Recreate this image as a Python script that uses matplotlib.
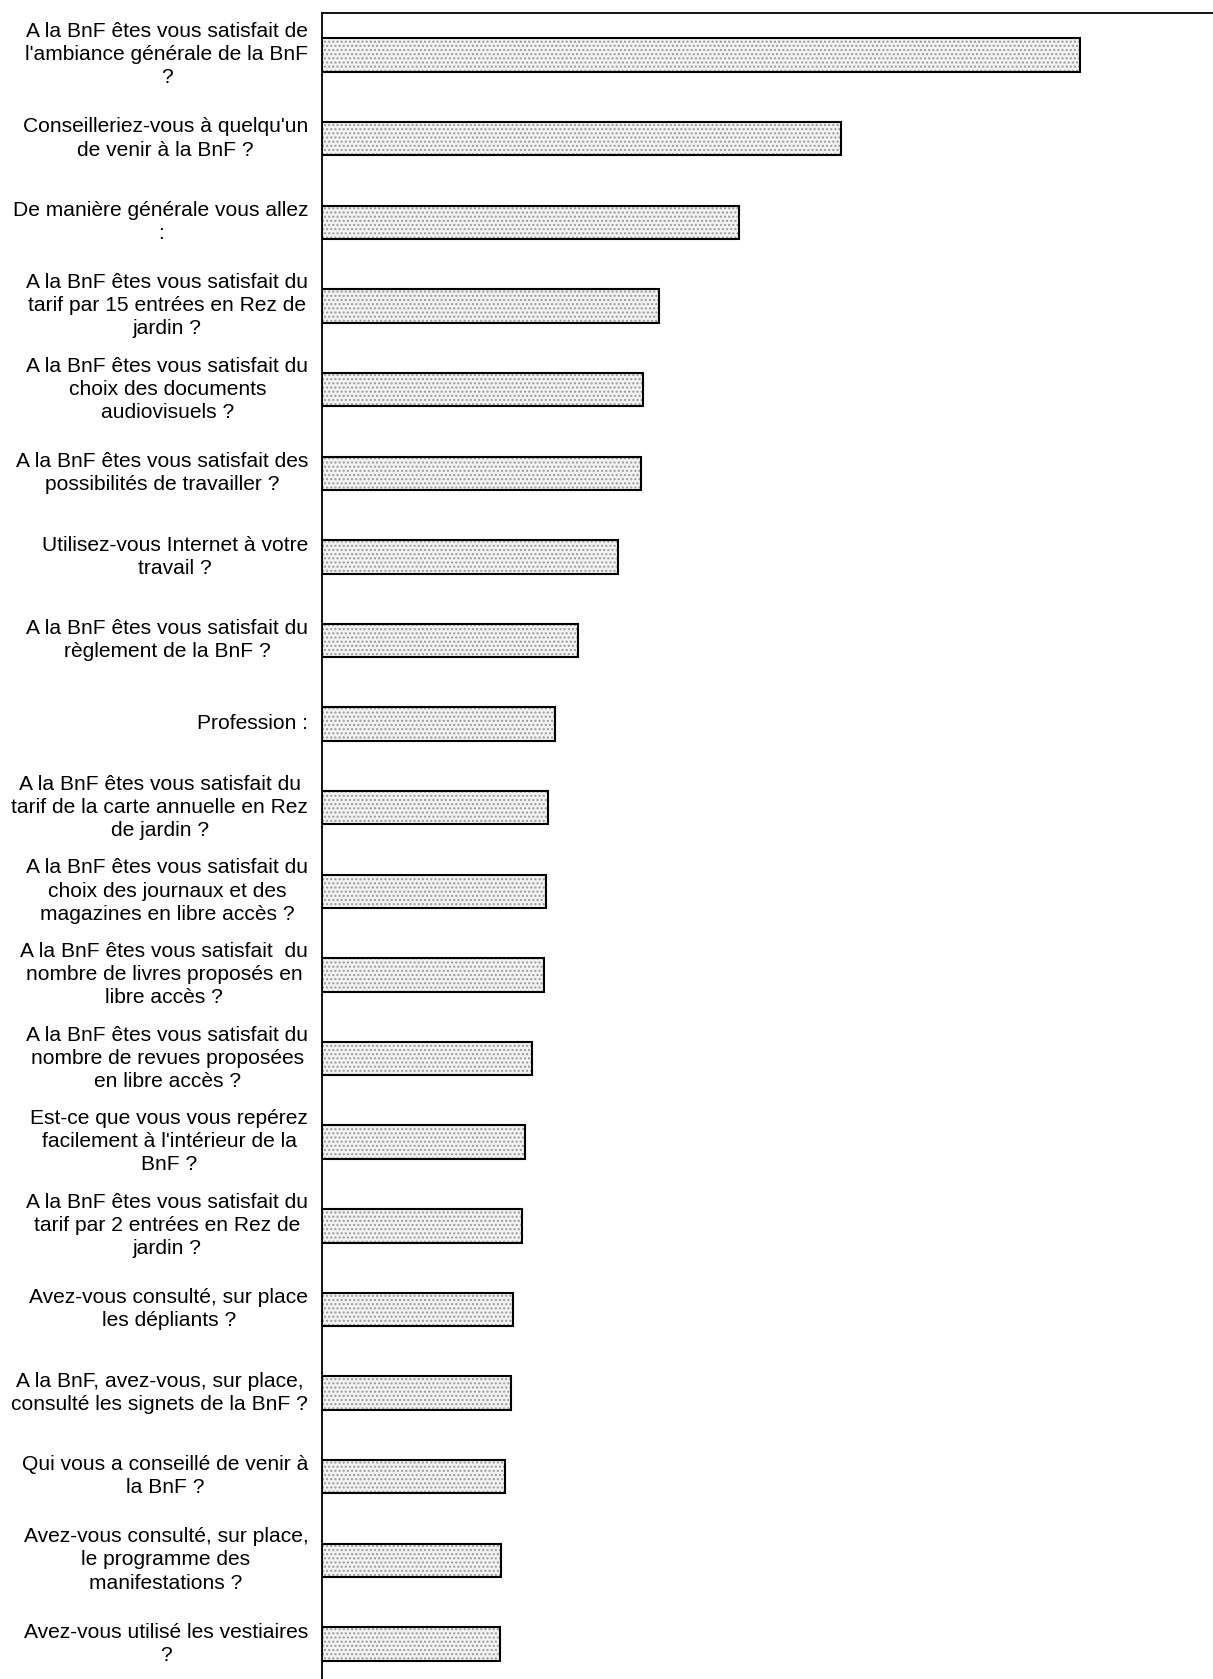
import matplotlib
matplotlib.use("Agg")
import matplotlib.pyplot as plt
import matplotlib.transforms as mtransforms
import numpy as np

labels = [
    "A la BnF êtes vous satisfait de\nl'ambiance générale de la BnF\n?",
    "Conseilleriez-vous à quelqu'un\nde venir à la BnF ?",
    "De manière générale vous allez\n:",
    "A la BnF êtes vous satisfait du\ntarif par 15 entrées en Rez de\njardin ?",
    "A la BnF êtes vous satisfait du\nchoix des documents\naudiovisuels ?",
    "A la BnF êtes vous satisfait des\npossibilités de travailler ?",
    "Utilisez-vous Internet à votre\ntravail ?",
    "A la BnF êtes vous satisfait du\nrèglement de la BnF ?",
    "Profession :",
    "A la BnF êtes vous satisfait du\ntarif de la carte annuelle en Rez\nde jardin ?",
    "A la BnF êtes vous satisfait du\nchoix des journaux et des\nmagazines en libre accès ?",
    "A la BnF êtes vous satisfait  du\nnombre de livres proposés en\nlibre accès ?",
    "A la BnF êtes vous satisfait du\nnombre de revues proposées\nen libre accès ?",
    "Est-ce que vous vous repérez\nfacilement à l'intérieur de la\nBnF ?",
    "A la BnF êtes vous satisfait du\ntarif par 2 entrées en Rez de\njardin ?",
    "Avez-vous consulté, sur place\nles dépliants ?",
    "A la BnF, avez-vous, sur place,\nconsulté les signets de la BnF ?",
    "Qui vous a conseillé de venir à\nla BnF ?",
    "Avez-vous consulté, sur place,\nle programme des\nmanifestations ?",
    "Avez-vous utilisé les vestiaires\n?",
]
values = [708, 485, 389, 315, 300, 298, 276, 239, 217, 211,
          209, 207, 196, 189, 187, 178, 176, 171, 167, 166]

W, H = 1213, 1679
fig = plt.figure(figsize=(W / 100, H / 100), dpi=100)
left = 301 / 1133
ax = fig.add_axes([left, 0, 1 - left, 1 - 12 / 1568])

n = len(values)
y = np.arange(n)
ax.barh(y, values, height=0.40, color="#f2f2f2", edgecolor="#9a9a9a",
        hatch="....", linewidth=0, zorder=2)
ax.barh(y, values, height=0.40, fill=False, edgecolor="black",
        linewidth=1.5, zorder=3)

ax.set_xlim(0, 1133 - 301)
ax.set_ylim(n - 1 + 0.42, -0.506)
ax.set_yticks([])
ax.set_xticks([])

base = mtransforms.blended_transform_factory(ax.transAxes, ax.transData)
off = mtransforms.ScaledTranslation(-14 / 100, 0.3 / 100, fig.dpi_scale_trans)
for yi, lab in zip(y, labels):
    ax.text(0, yi, lab, transform=base + off, fontsize=15.1,
            family=["Liberation Sans", "DejaVu Sans"],
            ha="right", va="center", multialignment="center",
            linespacing=1.27, clip_on=False)

ax.spines["right"].set_visible(False)
ax.spines["bottom"].set_visible(False)
ax.spines["left"].set_linewidth(1.3)
ax.spines["top"].set_linewidth(1.3)

fig.savefig("out.png", dpi=100)
